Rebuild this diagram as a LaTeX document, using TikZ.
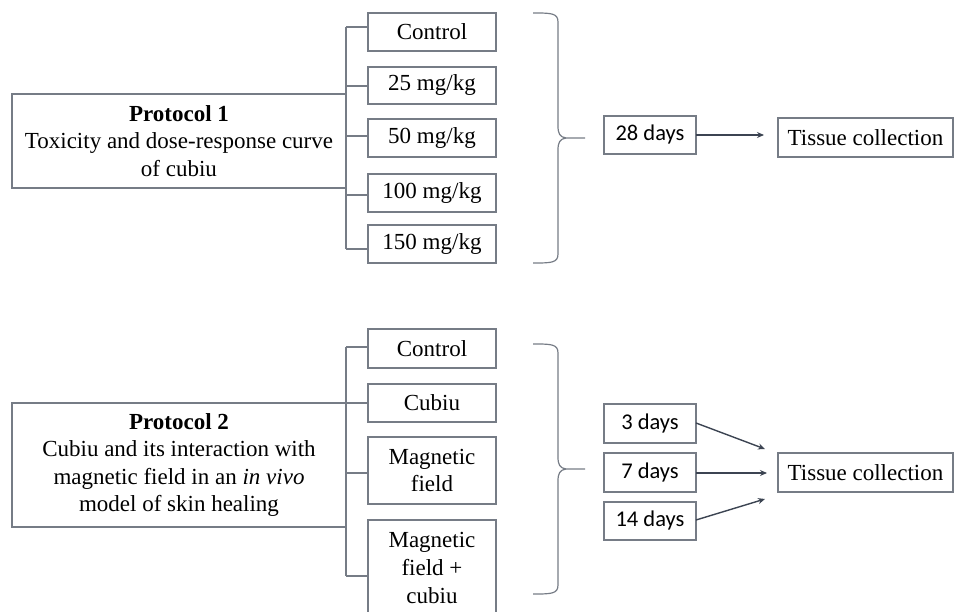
\documentclass[tikz,border=0pt]{standalone}
\usepackage{fontspec}
\setmainfont{Liberation Serif}
\newfontfamily\calfont{Carlito}
\usetikzlibrary{arrows.meta}
\definecolor{linegray}{RGB}{118,124,134}
\definecolor{arrowc}{RGB}{60,68,82}
\tikzset{
  every node/.style={inner sep=0pt, outer sep=0pt},
  txt/.style={font=\fontsize{23}{27.6}\selectfont, align=center, text=black},
  gbox/.style={draw=linegray, line width=1.2pt, txt},
  grp/.style={gbox, minimum width=128pt},
  dbox/.style={gbox, minimum width=92pt, minimum height=38pt, font=\calfont\fontsize{22.5}{27}\selectfont},
  tbox/.style={gbox, minimum width=175pt, minimum height=39pt},
  gline/.style={draw=linegray, line width=1.2pt},
  arr/.style={draw=arrowc, line width=1.4pt, -{Stealth[length=7pt,width=6pt]}},
}
\begin{document}
\begin{tikzpicture}[x=1pt,y=-1pt]
\useasboundingbox (0,0) rectangle (954,612);

% ---------- Protocol 1 ----------
\node[gbox, minimum width=334pt, minimum height=94pt] (p1) at (179,141)
  {\textbf{Protocol 1}\\Toxicity and dose-response curve\\of cubiu};
\node[grp, minimum height=38pt] (a1) at (432,32) {Control};
\node[grp, minimum height=37pt] (a2) at (432,85.5) {25 mg/kg};
\node[grp, minimum height=38pt] (a3) at (432,138) {50 mg/kg};
\node[grp, minimum height=38pt] (a4) at (432,193) {100 mg/kg};
\node[grp, minimum height=38pt] (a5) at (432,244) {150 mg/kg};
\coordinate (v1t) at (346,27);
\coordinate (v1b) at (346,249);
\draw[gline] (v1t) -- (v1b);
\draw[gline] (v1t) -- (a1.west |- v1t);
\draw[gline] (346,86) -- (a2.west |- 0,86);
\draw[gline] (346,136) -- (a3.west |- 0,136);
\draw[gline] (346,195) -- (a4.west |- 0,195);
\draw[gline] (v1b) -- (a5.west |- v1b);

% brace 1
\draw[gline] (533,13) .. controls (551,13) and (558,13) .. (558,22) -- (558,126)
  .. controls (558,134) and (560,137) .. (566,138) -- (585,138);
\draw[gline] (566,138) .. controls (560,139) and (558,142) .. (558,150) -- (558,254)
  .. controls (558,263) and (551,263) .. (533,263);

\node[dbox] (d28) at (650,135) {28 days};
\node[tbox] (t1) at (865.5,137.5) {Tissue collection};
\coordinate (e1) at (764,135);
\draw[arr] (d28.east) -- (e1);

% ---------- Protocol 2 ----------
\node[gbox, minimum width=334pt, minimum height=124pt] (p2) at (179,465)
  {\textbf{Protocol 2}\\Cubiu and its interaction with\\magnetic field in an \textit{in vivo}\\model of skin healing};
\node[grp, minimum height=39pt] (b1) at (432,348.5) {Control};
\node[grp, minimum height=38pt] (b2) at (432,403) {Cubiu};
\node[grp, minimum height=67pt] (b3) at (432,470.5) {Magnetic\\field};
\node[grp, minimum height=96pt, anchor=north] (b4) at (432,520) {Magnetic\\field +\\cubiu};
\coordinate (v2t) at (346,347);
\coordinate (v2b) at (346,576);
\draw[gline] (v2t) -- (v2b);
\draw[gline] (v2t) -- (b1.west |- v2t);
\draw[gline] (346,403) -- (b2.west);
\draw[gline] (346,473) -- (b3.west |- 0,473);
\draw[gline] (v2b) -- (b4.west |- v2b);

% brace 2
\draw[gline] (533,344) .. controls (551,344) and (558,344) .. (558,353) -- (558,457)
  .. controls (558,465) and (560,468) .. (566,469) -- (585,469);
\draw[gline] (566,469) .. controls (560,470) and (558,473) .. (558,481) -- (558,585)
  .. controls (558,594) and (551,594) .. (533,594);

\node[dbox, minimum height=39pt] (d3) at (650,423.5) {3 days};
\node[dbox, minimum height=39pt] (d7) at (650,472.5) {7 days};
\node[dbox] (d14) at (650,521) {14 days};
\node[tbox] (t2) at (865.5,472.5) {Tissue collection};
\coordinate (e3) at (765,449);
\coordinate (e7) at (767,473);
\coordinate (e14) at (765,499);
\draw[arr] (d3.east |- 0,423) -- (e3);
\draw[arr] (d7.east |- 0,473) -- (e7);
\draw[arr] (d14.east |- 0,520) -- (e14);
\end{tikzpicture}
\end{document}
